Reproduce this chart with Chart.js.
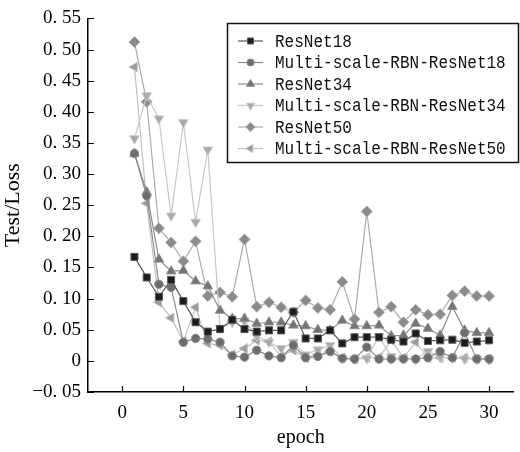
<!DOCTYPE html>
<html>
<head>
<meta charset="utf-8">
<script src="https://cdn.jsdelivr.net/npm/chart.js@4/dist/chart.umd.min.js"></script>
<style>
  html, body { margin: 0; padding: 0; background: #fff; }
  #c-loss { display: block; }
</style>
</head>
<body>
<canvas id="c-loss" width="520" height="452"></canvas>
<script>
// values
var epochs = [1, 2, 3, 4, 5, 6, 7, 8, 9, 10, 11, 12, 13, 14, 15, 16, 17, 18, 19, 20, 21, 22, 23, 24, 25, 26, 27, 28, 29, 30]
var resnet18 = [0.167, 0.134, 0.103, 0.130, 0.096, 0.062, 0.047, 0.051, 0.066, 0.051, 0.047, 0.049, 0.049, 0.079, 0.036, 0.036, 0.049, 0.028, 0.038, 0.038, 0.038, 0.034, 0.031, 0.044, 0.032, 0.033, 0.034, 0.029, 0.031, 0.033]
var rbnResnet18 = [0.333, 0.265, 0.123, 0.118, 0.030, 0.036, 0.035, 0.030, 0.008, 0.006, 0.017, 0.008, 0.005, 0.025, 0.005, 0.007, 0.015, 0.004, 0.003, 0.022, 0.003, 0.003, 0.003, 0.003, 0.005, 0.015, 0.005, 0.045, 0.003, 0.003]
var resnet34 = [0.333, 0.271, 0.163, 0.144, 0.145, 0.128, 0.120, 0.081, 0.068, 0.068, 0.060, 0.062, 0.062, 0.057, 0.056, 0.050, 0.049, 0.065, 0.056, 0.056, 0.057, 0.040, 0.041, 0.060, 0.052, 0.041, 0.087, 0.049, 0.045, 0.045]
var rbnResnet34 = [0.357, 0.426, 0.389, 0.233, 0.383, 0.223, 0.339, 0.053, 0.062, 0.064, 0.040, 0.030, 0.020, 0.030, 0.010, 0.018, 0.025, 0.004, 0.003, 0.004, 0.039, 0.007, 0.005, 0.003, 0.015, 0.006, 0.005, 0.003, 0.003, 0.002]
var resnet50 = [0.512, 0.416, 0.213, 0.190, 0.160, 0.192, 0.104, 0.110, 0.103, 0.195, 0.087, 0.094, 0.086, 0.078, 0.097, 0.085, 0.082, 0.127, 0.067, 0.240, 0.078, 0.087, 0.062, 0.082, 0.074, 0.075, 0.105, 0.112, 0.104, 0.104]
var rbnResnet50 = [0.472, 0.253, 0.094, 0.069, 0.031, 0.086, 0.028, 0.025, 0.010, 0.020, 0.033, 0.031, 0.007, 0.017, 0.005, 0.010, 0.015, 0.005, 0.003, 0.005, 0.005, 0.033, 0.005, 0.030, 0.005, 0.005, 0.005, 0.005, 0.003, 0.003]

var seriesNames = ['ResNet18', 'Multi-scale-RBN-ResNet18', 'ResNet34', 'Multi-scale-RBN-ResNet34', 'ResNet50', 'Multi-scale-RBN-ResNet50']
var xTicks = [0, 5, 10, 15, 20, 25, 30]
var yTicks = [-0.05, 0, 0.05, 0.10, 0.15, 0.20, 0.25, 0.30, 0.35, 0.40, 0.45, 0.50, 0.55]
var yTickLabels = ['\u22120. 05', '0', '0. 05', '0. 10', '0. 15', '0. 20', '0. 25', '0. 30', '0. 35', '0. 40', '0. 45', '0. 50', '0. 55']

var serif = '"Liberation Serif", "Times New Roman", serif'
var mono = '"Liberation Mono", "DejaVu Sans Mono", monospace'

function makeSet(i, values, line, fill, style, rot, r) {
  return {
    label: seriesNames[i],
    data: epochs.map(function(e, k) { return { x: e, y: values[k] } }),
    borderColor: line,
    borderWidth: 1.2,
    backgroundColor: fill,
    pointBackgroundColor: fill,
    pointBorderColor: line,
    pointBorderWidth: 1,
    pointStyle: style,
    pointRotation: rot,
    pointRadius: r,
    tension: 0
  }
}

var datasets = [
  makeSet(0, resnet18, '#5a5a5a', '#1c1c1c', 'rect', 0, 5),
  makeSet(1, rbnResnet18, '#8a8a8a', '#6c6c6c', 'circle', 0, 4.2),
  makeSet(2, resnet34, '#8e8e8e', '#747474', 'triangle', 0, 5.5),
  makeSet(3, rbnResnet34, '#c6c6c6', '#a9a9a9', 'triangle', 180, 5.5),
  makeSet(4, resnet50, '#ababab', '#8b8b8b', 'rectRot', 0, 5.5),
  makeSet(5, rbnResnet50, '#c0c0c0', '#9c9c9c', 'triangle', -90, 5.5)
]

// inward ticks + boxed legend
var decor = {
  id: 'decor',
  afterDraw: function(chart) {
    var ctx = chart.ctx
    var xs = chart.scales.x, ys = chart.scales.y
    var area = chart.chartArea
    ctx.save()
    ctx.strokeStyle = '#000'
    ctx.lineWidth = 1.2
    ctx.beginPath()
    yTicks.forEach(function(v) {
      var py = Math.round(ys.getPixelForValue(v)) + 0.5
      ctx.moveTo(area.left, py)
      ctx.lineTo(area.left + 6, py)
    })
    xTicks.forEach(function(v) {
      var px = Math.round(xs.getPixelForValue(v)) + 0.5
      ctx.moveTo(px, area.bottom)
      ctx.lineTo(px, area.bottom - 6)
    })
    ctx.stroke()

    var bx = 227.5, by = 23.5, bw = 291, bh = 139
    ctx.fillStyle = '#fff'
    ctx.fillRect(bx, by, bw, bh)
    ctx.lineWidth = 1.5
    ctx.strokeStyle = '#111'
    ctx.strokeRect(bx, by, bw, bh)
    ctx.font = '18px ' + mono
    ctx.textBaseline = 'middle'
    chart.data.datasets.forEach(function(ds, i) {
      var cy = 41 + i * 21.5
      ctx.strokeStyle = ds.borderColor
      ctx.lineWidth = 1.2
      ctx.beginPath()
      ctx.moveTo(238, cy)
      ctx.lineTo(263, cy)
      ctx.stroke()
      ctx.fillStyle = ds.pointBackgroundColor
      ctx.strokeStyle = ds.pointBorderColor
      ctx.lineWidth = 1
      Chart.helpers.drawPoint(ctx, {
        pointStyle: ds.pointStyle,
        rotation: ds.pointRotation,
        radius: ds.pointRadius * 0.85,
        borderWidth: 1
      }, 250.5, cy)
      // narrow, tall glyphs like the original
      ctx.save()
      ctx.translate(275, cy + 1)
      ctx.scale(0.89, 1)
      ctx.fillStyle = '#111'
      ctx.fillText(ds.label, 0, 0)
      ctx.restore()
    })
    ctx.restore()
  }
}

var config = {
  type: 'line',
  data: { datasets: datasets },
  options: {
    responsive: false,
    animation: false,
    layout: { padding: { top: 15, right: 0, left: 0, bottom: 0 } },
    plugins: {
      legend: { display: false },
      tooltip: { enabled: false }
    },
    scales: {
      x: {
        type: 'linear',
        min: -2.8,
        max: 32,
        afterBuildTicks: function(scale) {
          scale.ticks = xTicks.map(function(v) { return { value: v } })
        },
        afterFit: function(scale) { scale.height = 60 },
        grid: { display: true, drawOnChartArea: false, drawTicks: false },
        border: { display: true, color: '#000', width: 1.5 },
        ticks: {
          padding: 10,
          color: '#000',
          font: { family: serif, size: 19 },
          maxRotation: 0,
          callback: function(v) { return String(v) }
        },
        title: {
          display: true,
          text: 'epoch',
          color: '#000',
          font: { family: serif, size: 20 },
          padding: { top: 0, bottom: 2 }
        }
      },
      y: {
        min: -0.05,
        max: 0.55,
        afterBuildTicks: function(scale) {
          scale.ticks = yTicks.map(function(v) { return { value: v } })
        },
        afterFit: function(scale) { scale.width = 88 },
        grid: { display: true, drawOnChartArea: false, drawTicks: false },
        border: { display: true, color: '#000', width: 1.5 },
        ticks: {
          padding: 7,
          color: '#000',
          font: { family: serif, size: 19 },
          callback: function(v) {
            var k = yTicks.findIndex(function(t) { return Math.abs(t - v) < 1e-9 })
            return k >= 0 ? yTickLabels[k] : ''
          }
        },
        title: {
          display: true,
          text: 'Test/Loss',
          color: '#000',
          font: { family: serif, size: 22 },
          padding: { top: 0, bottom: 0 }
        }
      }
    }
  },
  plugins: [decor]
}

var ctx = document.getElementById('c-loss').getContext('2d')
new Chart(ctx, config)
</script>
</body>
</html>
